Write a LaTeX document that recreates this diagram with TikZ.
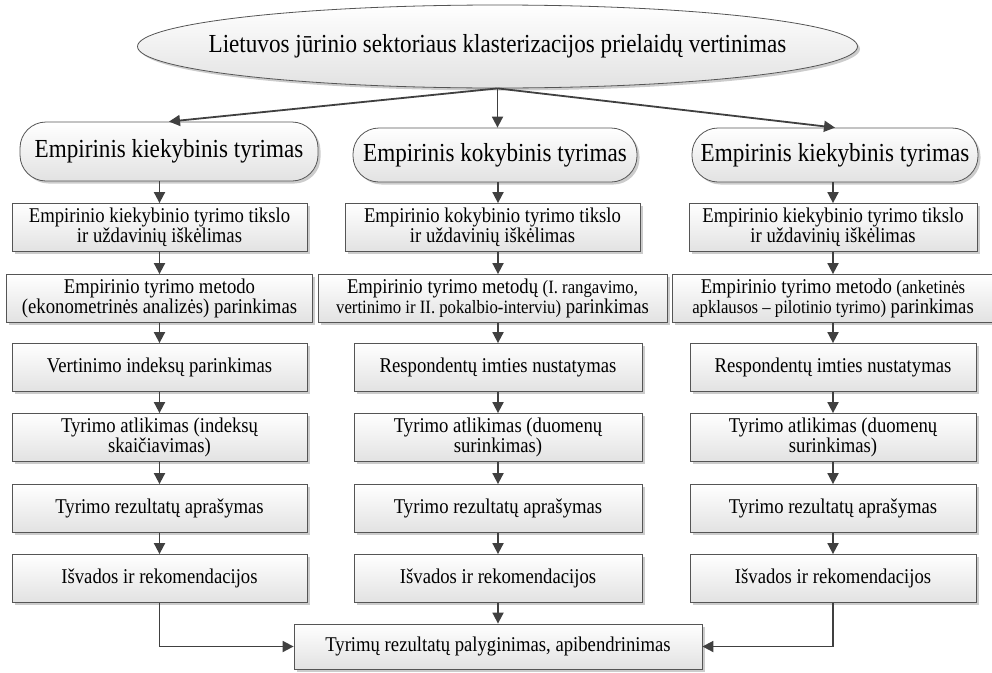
\documentclass[tikz,border=0pt]{standalone}
\usepackage{fontspec}
\setmainfont{Liberation Serif}[FakeStretch=0.89]
\usetikzlibrary{arrows.meta,shapes.geometric,shadows,calc}
\definecolor{boxline}{HTML}{555555}
\definecolor{boxbot}{HTML}{E2E2E2}
\definecolor{arrcol}{HTML}{404040}
\newcommand\smtxt{\fontsize{18.8}{19.5}\selectfont}
\begin{document}
\begin{tikzpicture}[x=1pt,y=-1pt,
  base/.style={draw=boxline, line width=0.8pt, top color=white, bottom color=boxbot,
    drop shadow={shadow xshift=2.5pt, shadow yshift=-2.5pt, fill=black, opacity=0.2},
    align=center, inner sep=1pt},
  bx/.style={base, rectangle, font=\fontsize{21}{19.5}\selectfont, minimum height=48pt},
  rbx/.style={base, rectangle, rounded corners=26pt, font=\fontsize{26}{28}\selectfont},
  ell/.style={base, ellipse, inner sep=0pt},
  bigtxt/.style={font=\fontsize{26}{28}\selectfont, inner sep=0pt},
  arr/.style={draw=arrcol, line width=1.8pt, -{Triangle[length=11pt,width=11pt]}}
]
\useasboundingbox (0,0) rectangle (992,672);

% top ellipse
\node[ell, minimum width=720pt, minimum height=83pt] (top) at (497.5,46.5) {};
\node[bigtxt] (toptxt) at (top.center)
  {Lietuvos jūrinio sektoriaus klasterizacijos prielaidų vertinimas};

% rounded boxes
\node[rbx, minimum width=298pt, minimum height=59pt] (lr) at (169,151.5) {Empirinis kiekybinis tyrimas};
\node[rbx, minimum width=284pt, minimum height=54pt] (mr) at (495,155) {Empirinis kokybinis tyrimas};
\node[rbx, minimum width=286pt, minimum height=54pt] (rr) at (835,155) {Empirinis kiekybinis tyrimas};

% left column
\node[bx, minimum width=295pt] (l1) at (159.5,227.5) {Empirinio kiekybinio tyrimo tikslo\\ir uždavinių iškėlimas};
\node[bx, minimum width=306pt] (l2) at (159.5,298.5) {Empirinio tyrimo metodo\\(ekonometrinės analizės) parinkimas};
\node[bx, minimum width=295pt] (l3) at (159.5,367.5) {Vertinimo indeksų parinkimas};
\node[bx, minimum width=295pt] (l4) at (159.5,437.5) {Tyrimo atlikimas (indeksų\\skaičiavimas)};
\node[bx, minimum width=295pt] (l5) at (159.5,508.5) {Tyrimo rezultatų aprašymas};
\node[bx, minimum width=295pt] (l6) at (159.5,578.5) {Išvados ir rekomendacijos};

% middle column
\node[bx, minimum width=295pt] (m1) at (492.5,227.5) {Empirinio kokybinio tyrimo tikslo\\ir uždavinių iškėlimas};
\node[bx, minimum width=349pt] (m2) at (492.5,298.5) {Empirinio tyrimo metodų {\smtxt (I. rangavimo,}\\{\smtxt vertinimo ir II. pokalbio-interviu)} parinkimas};
\node[bx, minimum width=288pt] (m3) at (498,367.5) {Respondentų imties nustatymas};
\node[bx, minimum width=288pt] (m4) at (498,437.5) {Tyrimo atlikimas (duomenų\\surinkimas)};
\node[bx, minimum width=288pt] (m5) at (498,508.5) {Tyrimo rezultatų aprašymas};
\node[bx, minimum width=288pt] (m6) at (498,578.5) {Išvados ir rekomendacijos};

% right column
\node[bx, minimum width=288pt] (r1) at (833,227.5) {Empirinio kiekybinio tyrimo tikslo\\ir uždavinių iškėlimas};
\node[bx, minimum width=322pt] (r2) at (833,298.5) {Empirinio tyrimo metodo {\smtxt (anketinės}\\{\smtxt apklausos – pilotinio tyrimo)} parinkimas};
\node[bx, minimum width=286pt] (r3) at (833,367.5) {Respondentų imties nustatymas};
\node[bx, minimum width=286pt] (r4) at (833,437.5) {Tyrimo atlikimas (duomenų\\surinkimas)};
\node[bx, minimum width=286pt] (r5) at (833,508.5) {Tyrimo rezultatų aprašymas};
\node[bx, minimum width=286pt] (r6) at (833,578.5) {Išvados ir rekomendacijos};

% final box
\node[bx, minimum width=408pt, minimum height=45pt] (fin) at (498,646.5) {Tyrimų rezultatų palyginimas, apibendrinimas};

% connectors from ellipse
\draw[arr] (top.south) -- (lr.north);
\draw[arr] (top.south) -- (top.south |- mr.north);
\draw[arr] (top.south) -- (rr.north);

% column connectors
\draw[arr] (lr.south -| l1) -- (l1.north);
\draw[arr] (l1.south) -- (l2.north);
\draw[arr] (l2.south) -- (l3.north);
\draw[arr] (l3.south) -- (l4.north);
\draw[arr] (l4.south) -- (l5.north);
\draw[arr] (l5.south) -- (l6.north);

\draw[arr] (mr.south -| m3) -- (m1.north -| m3);
\draw[arr] (m1.south -| m3) -- (m2.north -| m3);
\draw[arr] (m2.south -| m3) -- (m3.north);
\draw[arr] (m3.south) -- (m4.north);
\draw[arr] (m4.south) -- (m5.north);
\draw[arr] (m5.south) -- (m6.north);

\draw[arr] (rr.south -| r1) -- (r1.north);
\draw[arr] (r1.south) -- (r2.north);
\draw[arr] (r2.south) -- (r3.north);
\draw[arr] (r3.south) -- (r4.north);
\draw[arr] (r4.south) -- (r5.north);
\draw[arr] (r5.south) -- (r6.north);

% to final box
\draw[arr] (l6.south) |- (fin.west);
\draw[arr] (m6.south) -- (fin.north);
\draw[arr] (r6.south) |- (fin.east);
\end{tikzpicture}
\end{document}
